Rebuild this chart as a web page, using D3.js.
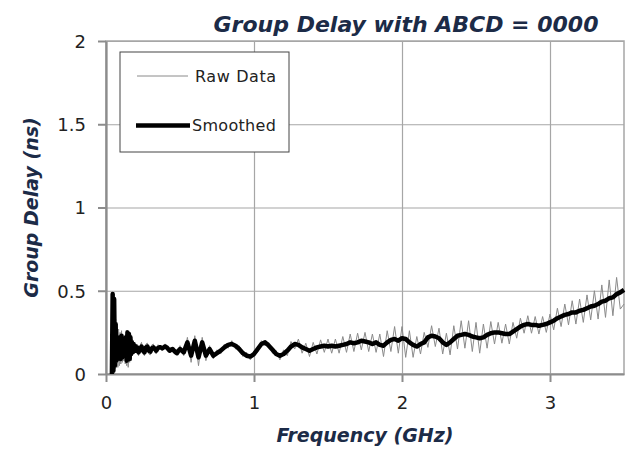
<!DOCTYPE html>
<html>
<head>
<meta charset="utf-8">
<script src="https://cdn.jsdelivr.net/npm/d3@7"></script>
<style>
  body { margin: 0; background: #fff; }
  .canvas { width: 631px; height: 451px; }
</style>
</head>
<body>
<div class="canvas"></div>
<script>
// sample frequencies (GHz): dense near the start, then every 25 MHz
const freqLow = [0.040, 0.045, 0.050, 0.055, 0.060, 0.065, 0.070, 0.075, 0.080, 0.085, 0.090,
  0.095, 0.100, 0.105, 0.110, 0.115, 0.120, 0.125, 0.130, 0.135, 0.140, 0.145, 0.150, 0.155,
  0.160, 0.165, 0.170, 0.175, 0.180, 0.185, 0.190, 0.195, 0.200];
const freqMid = [0.21, 0.22, 0.23, 0.24, 0.25, 0.26, 0.27, 0.28, 0.29, 0.30, 0.31, 0.32, 0.33,
  0.34, 0.35, 0.36, 0.37, 0.38, 0.39, 0.40, 0.41, 0.42, 0.43, 0.44, 0.45, 0.46, 0.47, 0.48, 0.49];
const freqHigh = [0.500, 0.525, 0.550, 0.575, 0.600, 0.625, 0.650, 0.675, 0.700, 0.725, 0.750,
  0.775, 0.800, 0.825, 0.850, 0.875, 0.900, 0.925, 0.950, 0.975, 1.000,
  1.025, 1.050, 1.075, 1.100, 1.125, 1.150, 1.175, 1.200, 1.225, 1.250,
  1.275, 1.300, 1.325, 1.350, 1.375, 1.400, 1.425, 1.450, 1.475, 1.500,
  1.525, 1.550, 1.575, 1.600, 1.625, 1.650, 1.675, 1.700, 1.725, 1.750,
  1.775, 1.800, 1.825, 1.850, 1.875, 1.900, 1.925, 1.950, 1.975, 2.000,
  2.025, 2.050, 2.075, 2.100, 2.125, 2.150, 2.175, 2.200, 2.225, 2.250,
  2.275, 2.300, 2.325, 2.350, 2.375, 2.400, 2.425, 2.450, 2.475, 2.500,
  2.525, 2.550, 2.575, 2.600, 2.625, 2.650, 2.675, 2.700, 2.725, 2.750,
  2.775, 2.800, 2.825, 2.850, 2.875, 2.900, 2.925, 2.950, 2.975, 3.000,
  3.025, 3.050, 3.075, 3.100, 3.125, 3.150, 3.175, 3.200, 3.225, 3.250,
  3.275, 3.300, 3.325, 3.350, 3.375, 3.400, 3.425, 3.450, 3.475, 3.500];

// group delay (ns), raw measurement
const rawLow = [0.00, 0.46, 0.05, 0.40, 0.03, 0.33, 0.06, 0.30, 0.04, 0.27, 0.05,
  0.25, 0.06, 0.26, 0.07, 0.23, 0.08, 0.20, 0.06, 0.24, 0.05, 0.26, 0.04, 0.25,
  0.07, 0.24, 0.08, 0.21, 0.12, 0.20, 0.12, 0.19, 0.13];
const rawMid = [0.18, 0.11, 0.17, 0.19, 0.12, 0.11, 0.18, 0.185, 0.12, 0.115, 0.175, 0.18, 0.13,
  0.12, 0.175, 0.17, 0.15, 0.14, 0.175, 0.18, 0.15, 0.14, 0.155, 0.16, 0.135, 0.125, 0.15, 0.14, 0.12];
const rawHigh = [0.17, 0.11, 0.22, 0.07, 0.23, 0.05, 0.22, 0.08, 0.17, 0.09, 0.145,
  0.12, 0.18, 0.155, 0.20, 0.15, 0.17, 0.105, 0.13, 0.085, 0.14,
  0.13, 0.20, 0.17, 0.19, 0.125, 0.14, 0.085, 0.145, 0.11, 0.195,
  0.15, 0.21, 0.125, 0.185, 0.105, 0.19, 0.12, 0.205, 0.13, 0.21,
  0.125, 0.21, 0.125, 0.225, 0.13, 0.24, 0.135, 0.245, 0.145, 0.25,
  0.135, 0.24, 0.13, 0.24, 0.105, 0.26, 0.135, 0.285, 0.125, 0.285,
  0.10, 0.26, 0.10, 0.225, 0.12, 0.25, 0.16, 0.29, 0.165, 0.275,
  0.12, 0.245, 0.115, 0.29, 0.15, 0.32, 0.155, 0.32, 0.135, 0.31,
  0.125, 0.30, 0.155, 0.315, 0.18, 0.31, 0.185, 0.30, 0.18, 0.31,
  0.215, 0.335, 0.245, 0.35, 0.245, 0.345, 0.24, 0.345, 0.25, 0.36,
  0.265, 0.395, 0.285, 0.42, 0.295, 0.44, 0.30, 0.45, 0.31, 0.475,
  0.325, 0.50, 0.33, 0.535, 0.34, 0.565, 0.35, 0.58, 0.39, 0.42];

// group delay (ns), smoothed
const smoothLow = [0.00, 0.48, 0.02, 0.45, 0.05, 0.30, 0.08, 0.22, 0.09, 0.21, 0.10,
  0.22, 0.09, 0.23, 0.10, 0.20, 0.12, 0.17, 0.11, 0.22, 0.08, 0.25, 0.09, 0.24,
  0.09, 0.22, 0.12, 0.19, 0.13, 0.18, 0.14, 0.17, 0.14];
const smoothMid = [0.16, 0.13, 0.15, 0.165, 0.14, 0.13, 0.16, 0.165, 0.14, 0.135, 0.155, 0.16, 0.15,
  0.14, 0.155, 0.16, 0.16, 0.155, 0.16, 0.165, 0.16, 0.15, 0.14, 0.145, 0.15, 0.14, 0.13, 0.125, 0.14];
const smoothHigh = [0.15, 0.13, 0.19, 0.11, 0.20, 0.10, 0.19, 0.11, 0.15, 0.11, 0.125,
  0.14, 0.16, 0.175, 0.18, 0.17, 0.15, 0.125, 0.11, 0.105, 0.12,
  0.15, 0.18, 0.19, 0.17, 0.145, 0.12, 0.11, 0.12, 0.14, 0.165,
  0.18, 0.175, 0.16, 0.15, 0.14, 0.15, 0.16, 0.165, 0.17, 0.165,
  0.17, 0.165, 0.17, 0.175, 0.18, 0.19, 0.185, 0.19, 0.20, 0.195,
  0.19, 0.18, 0.19, 0.175, 0.17, 0.19, 0.205, 0.21, 0.20, 0.215,
  0.21, 0.19, 0.175, 0.165, 0.18, 0.19, 0.22, 0.23, 0.225, 0.215,
  0.19, 0.175, 0.19, 0.21, 0.23, 0.235, 0.24, 0.235, 0.225, 0.22,
  0.215, 0.22, 0.235, 0.245, 0.25, 0.25, 0.245, 0.24, 0.24, 0.255,
  0.27, 0.285, 0.295, 0.30, 0.295, 0.295, 0.29, 0.295, 0.30, 0.31,
  0.32, 0.335, 0.345, 0.355, 0.36, 0.37, 0.37, 0.38, 0.385, 0.395,
  0.405, 0.41, 0.42, 0.435, 0.44, 0.455, 0.46, 0.48, 0.49, 0.505];

const xTicks = [0, 1, 2, 3];
const yTicks = [0, 0.5, 1, 1.5, 2];

const freq = freqLow.concat(freqMid, freqHigh);
const raw = rawLow.concat(rawMid, rawHigh);
const smooth = smoothLow.concat(smoothMid, smoothHigh);
const points = freq.map((f, i) => ({ f: f, raw: raw[i], smooth: smooth[i] }));

const W = 631, H = 451;
const margin = { top: 41, right: 7, bottom: 77, left: 106 };
const width = W - margin.left - margin.right;
const height = H - margin.top - margin.bottom;

const navy = "#1c2b47";
const font = "'DejaVu Sans', sans-serif";

const svg = d3.select(".canvas").append("svg").attr("width", W).attr("height", H);
const group = svg.append("g").attr("transform", `translate(${margin.left},${margin.top})`);

const x = d3.scaleLinear().domain([0, 3.5]).range([0, width]);
const y = d3.scaleLinear().domain([0, 2]).range([height, 0]);

// gridlines
group.append("g")
  .call(d3.axisBottom(x).tickValues(xTicks).tickSize(height).tickFormat(""))
  .call(g => g.select(".domain").remove())
  .call(g => g.selectAll("line").attr("stroke", "#a6a6a6").attr("stroke-width", 1.2));
group.append("g")
  .call(d3.axisLeft(y).tickValues(yTicks).tickSize(-width).tickFormat(""))
  .call(g => g.select(".domain").remove())
  .call(g => g.selectAll("line").attr("stroke", "#a6a6a6").attr("stroke-width", 1.2));

// plot border
group.append("rect")
  .attr("width", width).attr("height", height)
  .attr("fill", "none").attr("stroke", "#a6a6a6").attr("stroke-width", 1.5);

// axes
const xAxis = group.append("g")
  .attr("transform", `translate(0,${height})`)
  .call(d3.axisBottom(x).tickValues(xTicks).tickSize(8).tickSizeOuter(0).tickPadding(14).tickFormat(d => d));
const yAxis = group.append("g")
  .call(d3.axisLeft(y).tickValues(yTicks).tickSize(8).tickSizeOuter(0).tickPadding(12).tickFormat(d => d));
[xAxis, yAxis].forEach(a => {
  a.select(".domain").attr("stroke", "#8c8c8c").attr("stroke-width", 2.2);
  a.selectAll("line").attr("stroke", "#8c8c8c").attr("stroke-width", 2);
  a.selectAll("text").attr("fill", "#222").style("font-family", font).style("font-size", "18px");
});
yAxis.selectAll("text").attr("dy", "0.36em");

// lines
const rawLine = d3.line().x(d => x(d.f)).y(d => y(d.raw));
const smoothLine = d3.line().x(d => x(d.f)).y(d => y(d.smooth));

group.append("path")
  .datum(points)
  .attr("d", rawLine)
  .attr("fill", "none")
  .attr("stroke", "#8a8a8a")
  .attr("stroke-width", 1);

group.append("path")
  .datum(points)
  .attr("d", smoothLine)
  .attr("fill", "none")
  .attr("stroke", "#000")
  .attr("stroke-width", 4.5)
  .attr("stroke-linejoin", "round");

// legend
const legend = svg.append("g").attr("transform", "translate(120,52)");
legend.append("rect")
  .attr("width", 169).attr("height", 100)
  .attr("fill", "#fff").attr("stroke", "#444").attr("stroke-width", 1);
legend.append("line")
  .attr("x1", 17).attr("x2", 68).attr("y1", 24).attr("y2", 24)
  .attr("stroke", "#8a8a8a").attr("stroke-width", 1);
legend.append("text")
  .attr("x", 75).attr("y", 29.5)
  .attr("fill", "#222").style("font-family", font).style("font-size", "16px")
  .style("letter-spacing", "0.6px")
  .text("Raw Data");
legend.append("line")
  .attr("x1", 16).attr("x2", 70).attr("y1", 73.5).attr("y2", 73.5)
  .attr("stroke", "#000").attr("stroke-width", 4.5);
legend.append("text")
  .attr("x", 72).attr("y", 79)
  .attr("fill", "#222").style("font-family", font).style("font-size", "16px")
  .style("letter-spacing", "0.3px")
  .text("Smoothed");

// titles
svg.append("text")
  .attr("x", 406).attr("y", 32)
  .attr("text-anchor", "middle")
  .attr("fill", navy)
  .style("font-family", font).style("font-size", "22px")
  .style("font-weight", "bold").style("font-style", "italic")
  .text("Group Delay with ABCD = 0000");

svg.append("text")
  .attr("x", margin.left + width / 2).attr("y", 442)
  .attr("text-anchor", "middle")
  .attr("fill", navy)
  .style("font-family", font).style("font-size", "19px")
  .style("font-weight", "bold").style("font-style", "italic")
  .text("Frequency (GHz)");

svg.append("text")
  .attr("transform", `translate(38,${margin.top + height / 2}) rotate(-90)`)
  .attr("text-anchor", "middle")
  .attr("fill", navy)
  .style("font-family", font).style("font-size", "19px")
  .style("font-weight", "bold").style("font-style", "italic")
  .text("Group Delay (ns)");
</script>
</body>
</html>
